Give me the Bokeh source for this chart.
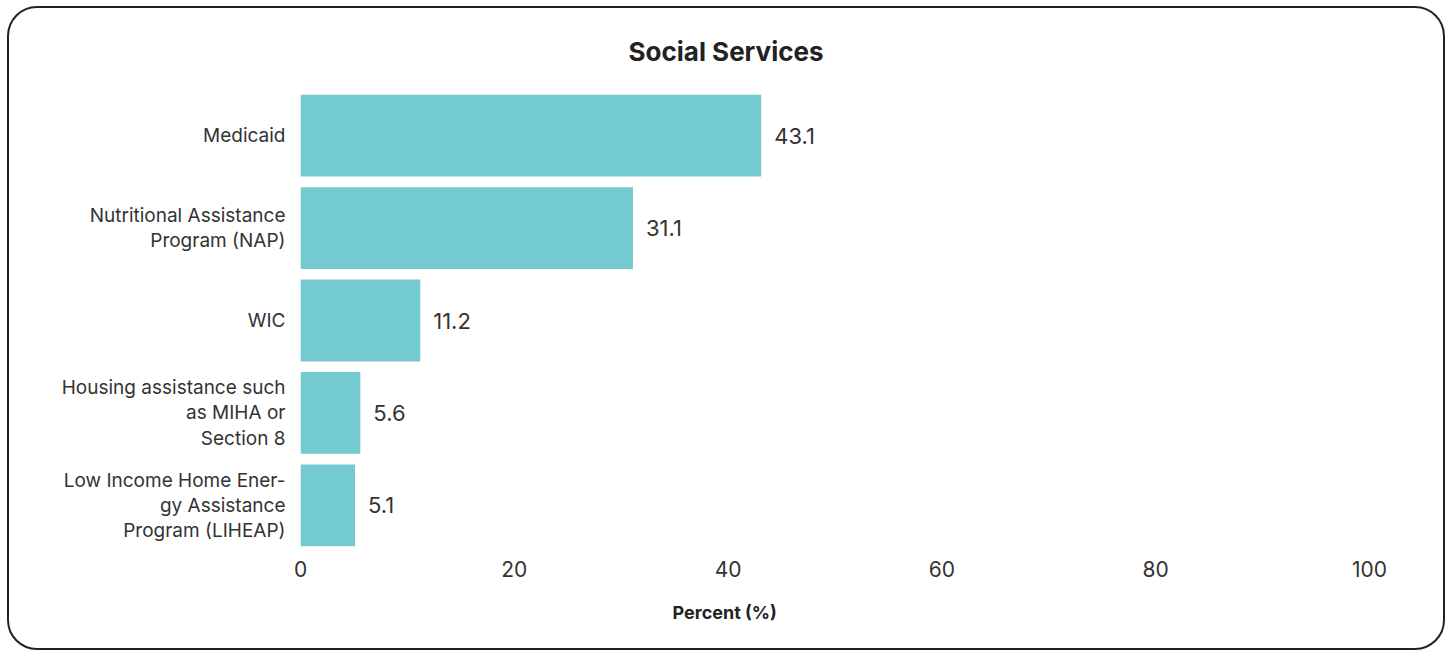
from bokeh.plotting import figure
from bokeh.models import ColumnDataSource, Title, LabelSet
from bokeh.core.properties import value
from bokeh.embed import file_html
from bokeh.resources import INLINE

categories = [
    "Medicaid",
    "Nutritional Assistance\nProgram (NAP)",
    "WIC",
    "Housing assistance such\nas MIHA or\nSection 8",
    "Low Income Home Ener-\ngy Assistance\nProgram (LIHEAP)",
]
values = [43.1, 31.1, 11.2, 5.6, 5.1]
value_labels = ["43.1", "31.1", "11.2", "5.6", "5.1"]
x_ticks = [0, 20, 40, 60, 80, 100]
title_text = "Social Services"
x_title = "Percent (%)"

FONT = "Inter"
BAR = "#74cbcf"
TXT = "#333333"

src = ColumnDataSource(dict(cat=categories, val=values, lab=value_labels))

p = figure(
    y_range=list(reversed(categories)),
    x_range=(0, 100),
    width=1438, height=644,
    output_backend="svg", toolbar_location=None,
    min_border_left=291, min_border_right=78,
    min_border_top=81, min_border_bottom=101,
    margin=(6, 7, 2, 7),
    styles={"border": "2px solid #222222", "border-radius": "30px",
            "box-sizing": "border-box", "overflow": "hidden"},
)
p.outline_line_color = None
p.background_fill_color = "white"
p.border_fill_color = None

p.hbar(y="cat", right="val", left=0, height=0.885, source=src,
       fill_color=BAR, line_color=None)

labels = LabelSet(x="val", y="cat", text="lab", source=src, x_offset=13,
                  text_align="left", text_baseline="middle",
                  text_font=value(FONT), text_font_size="22px", text_color=TXT)
p.add_layout(labels)

p.xgrid.visible = False
p.ygrid.visible = False

p.xaxis.ticker = x_ticks
p.xaxis.axis_line_color = None
p.xaxis.major_tick_line_color = None
p.xaxis.minor_tick_line_color = None
p.xaxis.major_label_text_font = FONT
p.xaxis.major_label_text_font_size = "21px"
p.xaxis.major_label_text_color = TXT
p.xaxis.major_label_standoff = 3

p.yaxis.axis_line_color = None
p.yaxis.major_tick_line_color = None
p.yaxis.minor_tick_line_color = None
p.yaxis.major_label_text_font = FONT
p.yaxis.major_label_text_font_size = "19px"
p.yaxis.major_label_text_color = TXT
p.yaxis.major_label_text_line_height = 1.1
p.yaxis.major_label_standoff = 9

p.title = Title(text=title_text, align="left", offset=328,
                text_font=FONT, text_font_size="26px", text_font_style="bold",
                text_color="#222222", standoff=45)

p.add_layout(Title(text=x_title, align="left", offset=372,
                   text_font=FONT, text_font_size="18px", text_font_style="bold",
                   text_color="#222222", standoff=41), "below")

open("out.html", "w").write(file_html(p, INLINE))
